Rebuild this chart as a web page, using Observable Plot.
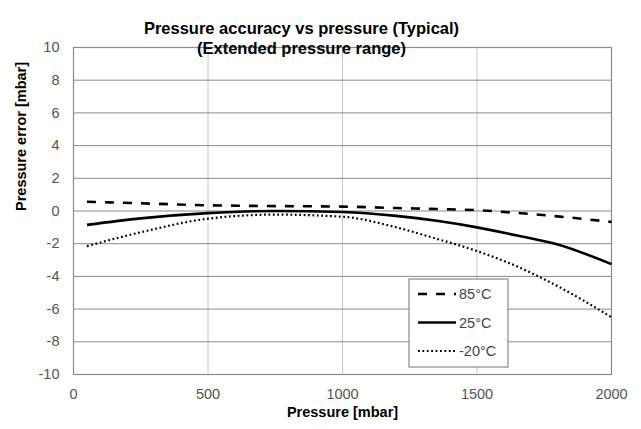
<!DOCTYPE html>
<html>
<head>
<meta charset="utf-8">
<script src="https://cdn.jsdelivr.net/npm/d3@7"></script>
<script src="https://cdn.jsdelivr.net/npm/@observablehq/plot@0.6"></script>
<style>
  html, body { margin: 0; padding: 0; background: #fff; }
  #chart { width: 641px; height: 429px; }
  svg text { font-family: "Liberation Sans", Arial, sans-serif; }
</style>
</head>
<body>
<div id="chart"></div>
<script>
const pressure = [50, 250, 500, 750, 1000, 1200, 1350, 1500, 1650, 1800, 2000];
const err85 = [0.57, 0.47, 0.35, 0.3, 0.27, 0.18, 0.12, 0.05, -0.12, -0.33, -0.67];
const err25 = [-0.85, -0.45, -0.13, 0, -0.06, -0.3, -0.6, -1.0, -1.5, -2.05, -3.25];
const errM20 = [-2.15, -1.3, -0.47, -0.22, -0.35, -1.0, -1.7, -2.45, -3.4, -4.6, -6.5];
const seriesNames = ["85°C", "25°C", "-20°C"];
const xTicks = [0, 500, 1000, 1500, 2000];
const yTicks = [-10, -8, -6, -4, -2, 0, 2, 4, 6, 8, 10];
const titleLines = ["Pressure accuracy vs pressure (Typical)", "(Extended pressure range)"];

const styles = {
  "85°C": {dash: "9,9", width: 2.6},
  "25°C": {dash: null, width: 2.6},
  "-20°C": {dash: "1.8,2.6", width: 2.2}
};

const rows = [];
[err85, err25, errM20].forEach((arr, i) => {
  arr.forEach((v, j) => rows.push({series: seriesNames[i], p: pressure[j], e: v}));
});

const lineMarks = seriesNames.map(name => Plot.line(rows.filter(r => r.series === name), {
  x: "p", y: "e", stroke: "#000", strokeWidth: styles[name].width,
  strokeDasharray: styles[name].dash, strokeLinecap: "butt", curve: "monotone-x"
}));

const plot = Plot.plot({
  width: 641, height: 429,
  marginLeft: 73, marginRight: 30, marginTop: 47, marginBottom: 55,
  style: {fontFamily: "Liberation Sans, Arial, sans-serif", fontSize: "14.5px", color: "#555"},
  x: {domain: [0, 2000], ticks: xTicks, tickSize: 0, tickPadding: 14, tickFormat: d => String(d), label: null},
  y: {domain: [-10, 10], ticks: yTicks, tickSize: 0, tickPadding: 14, tickFormat: d => String(d), label: null},
  marks: [
    Plot.gridX(xTicks.filter(t => t > 0 && t < 2000), {stroke: "#c8c8c8", strokeOpacity: 1, strokeWidth: 1}),
    Plot.gridY(yTicks.filter(t => t > -10 && t < 10), {stroke: "#8a8a8a", strokeOpacity: 1, strokeWidth: 1}),
    Plot.frame({stroke: "#8a8a8a", strokeWidth: 1.2}),
    ...lineMarks,
    Plot.text([titleLines[0]], {frameAnchor: "top", dx: -41, dy: -25, text: d => d, fontSize: 16.5, fontWeight: "bold", fill: "#000"}),
    Plot.text([titleLines[1]], {frameAnchor: "top", dx: -41, dy: -5, text: d => d, fontSize: 16.5, fontWeight: "bold", fill: "#000"}),
    Plot.text(["Pressure [mbar]"], {frameAnchor: "bottom", dy: 42, text: d => d, fontSize: 14.5, fontWeight: "bold", fill: "#000"}),
    Plot.text(["Pressure error [mbar]"], {frameAnchor: "left", dx: -52, rotate: -90, text: d => d, fontSize: 14.5, fontWeight: "bold", fill: "#000"})
  ]
});

// Legend box (inside the plot, lower right)
const svg = d3.select(plot);
const lg = svg.append("g").attr("transform", "translate(409,279)");
lg.append("rect").attr("width", 99).attr("height", 88).attr("fill", "#fff").attr("stroke", "#8a8a8a").attr("stroke-width", 1.2);
seriesNames.forEach((name, i) => {
  const yy = 15 + i * 28.5;
  lg.append("line").attr("x1", 9).attr("x2", 47).attr("y1", yy).attr("y2", yy)
    .attr("stroke", "#000").attr("stroke-width", styles[name].width)
    .attr("stroke-dasharray", styles[name].dash).attr("stroke-linecap", "butt");
  lg.append("text").attr("x", 50).attr("y", yy).attr("dy", "0.35em")
    .attr("text-anchor", "start")
    .attr("font-size", 14.5).attr("fill", "#444").text(name);
});

document.getElementById("chart").appendChild(plot);
</script>
</body>
</html>
